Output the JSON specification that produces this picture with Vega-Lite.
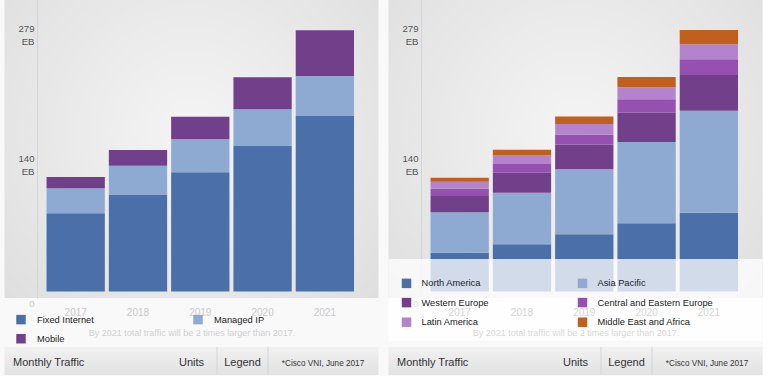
{
  "$schema": "https://vega.github.io/schema/vega-lite/v6.json",
  "background": "#f9f9f9",
  "padding": {"left": 4.5, "top": 0, "right": 0, "bottom": 0},
  "config": {"font": "Liberation Sans", "view": {"stroke": null}},
  "resolve": {"scale": {"color": "independent", "x": "independent", "y": "independent"}, "legend": {"color": "independent"}},
  "datasets": {
    "traffic": [
      {"year": "2017", "type": "Fixed Internet", "value": 83.5},
      {"year": "2017", "type": "Managed IP", "value": 26.7},
      {"year": "2017", "type": "Mobile", "value": 12.0},
      {"year": "2018", "type": "Fixed Internet", "value": 103.0},
      {"year": "2018", "type": "Managed IP", "value": 31.3},
      {"year": "2018", "type": "Mobile", "value": 16.8},
      {"year": "2019", "type": "Fixed Internet", "value": 127.3},
      {"year": "2019", "type": "Managed IP", "value": 35.2},
      {"year": "2019", "type": "Mobile", "value": 24.1},
      {"year": "2020", "type": "Fixed Internet", "value": 155.4},
      {"year": "2020", "type": "Managed IP", "value": 39.1},
      {"year": "2020", "type": "Mobile", "value": 34.2},
      {"year": "2021", "type": "Fixed Internet", "value": 187.4},
      {"year": "2021", "type": "Managed IP", "value": 42.7},
      {"year": "2021", "type": "Mobile", "value": 48.8}
    ],
    "regions": [
      {"year": "2017", "region": "North America", "value": 41.4},
      {"year": "2017", "region": "Asia Pacific", "value": 43.1},
      {"year": "2017", "region": "Western Europe", "value": 17.4},
      {"year": "2017", "region": "Central and Eastern Europe", "value": 7.8},
      {"year": "2017", "region": "Latin America", "value": 7.5},
      {"year": "2017", "region": "Middle East and Africa", "value": 4.3},
      {"year": "2018", "region": "North America", "value": 50.4},
      {"year": "2018", "region": "Asia Pacific", "value": 55.1},
      {"year": "2018", "region": "Western Europe", "value": 21.4},
      {"year": "2018", "region": "Central and Eastern Europe", "value": 9.3},
      {"year": "2018", "region": "Latin America", "value": 8.9},
      {"year": "2018", "region": "Middle East and Africa", "value": 6.1},
      {"year": "2019", "region": "North America", "value": 61.1},
      {"year": "2019", "region": "Asia Pacific", "value": 69.4},
      {"year": "2019", "region": "Western Europe", "value": 26.3},
      {"year": "2019", "region": "Central and Eastern Europe", "value": 10.7},
      {"year": "2019", "region": "Latin America", "value": 11.4},
      {"year": "2019", "region": "Middle East and Africa", "value": 7.8},
      {"year": "2020", "region": "North America", "value": 72.8},
      {"year": "2020", "region": "Asia Pacific", "value": 86.8},
      {"year": "2020", "region": "Western Europe", "value": 31.3},
      {"year": "2020", "region": "Central and Eastern Europe", "value": 14.3},
      {"year": "2020", "region": "Latin America", "value": 12.8},
      {"year": "2020", "region": "Middle East and Africa", "value": 11.0},
      {"year": "2021", "region": "North America", "value": 84.1},
      {"year": "2021", "region": "Asia Pacific", "value": 108.9},
      {"year": "2021", "region": "Western Europe", "value": 38.1},
      {"year": "2021", "region": "Central and Eastern Europe", "value": 16.8},
      {"year": "2021", "region": "Latin America", "value": 16.0},
      {"year": "2021", "region": "Middle East and Africa", "value": 15.3}
    ],
    "footer": [
      {"item": "Monthly Traffic", "kind": "title"},
      {"item": "Units", "kind": "menu"},
      {"item": "Legend", "kind": "menu"},
      {"item": "*Cisco VNI, June 2017", "kind": "source"},
      {"item": "sep1", "kind": "sep"},
      {"item": "sep2", "kind": "sep"}
    ]
  },
  "hconcat": [
    {
      "vconcat": [
        {
          "width": 374,
          "height": 298,
          "data": {"name": "traffic"},
          "transform": [{"calculate": "indexof(['Fixed Internet', 'Managed IP', 'Mobile'], datum.type)", "as": "stackOrder"}],
          "view": {"fill": {"gradient": "radial", "x1": 0.5, "y1": 0.45, "r1": 0, "x2": 0.5, "y2": 0.45, "r2": 0.75, "stops": [{"offset": 0, "color": "#f4f4f4"}, {"offset": 1, "color": "#dcdcdc"}]}, "stroke": null},
          "mark": {"type": "bar"},
          "encoding": {
            "x": {
              "field": "year", "type": "ordinal",
              "scale": {"paddingInner": 0.0642, "paddingOuter": 0.534, "align": 0.632},
              "axis": {"orient": "bottom", "domain": false, "ticks": false, "labelAngle": 0, "labelColor": "#c9c9c9", "labelFontSize": 10, "labelPadding": 9, "title": "By 2021 total traffic will be 2 times larger than 2017.", "titleColor": "#d0d0d0", "titleFontSize": 9, "titleFontWeight": "normal", "titlePadding": 11, "zindex": 1}
            },
            "y": {
              "field": "value", "type": "quantitative", "stack": "zero",
              "scale": {"domain": [-6.94, 311.2], "nice": false, "zero": false},
              "axis": {"values": [0, 140, 279], "offset": -32.5, "domainColor": "#d5d5d5", "ticks": false, "grid": false, "title": null, "labelExpr": "datum.value == 0 ? '0' : [datum.label, 'EB']", "labelColor": {"condition": {"test": "datum.value == 0", "value": "#cccccc"}, "value": "#555555"}, "labelOffset": {"condition": {"test": "datum.value == 0", "value": 15}, "value": 1.5}, "labelFontSize": 9.6, "labelLineHeight": 13, "labelBaseline": "alphabetic", "labelPadding": 3, "labelFlush": false, "labelOverlap": false, "zindex": 1}
            },
            "order": {"field": "stackOrder", "type": "quantitative", "sort": "ascending"},
            "color": {
              "field": "type", "type": "nominal",
              "scale": {"domain": ["Fixed Internet", "Managed IP", "Mobile"], "range": ["#4a6fa9", "#8eaad3", "#723f8a"]},
              "legend": {"orient": "none", "legendX": 0, "legendY": 302.75, "title": null, "columns": 2, "direction": "horizontal", "symbolType": "square", "symbolSize": 90, "symbolStrokeWidth": 0, "labelFontSize": 9.3, "labelColor": "#222222", "labelOffset": 11, "columnPadding": 99, "rowPadding": 8.5, "padding": 11.5, "gridAlign": "all"}
            }
          }
        },
        {
          "width": 374,
          "height": 28,
          "data": {"name": "footer"},
          "view": {"fill": {"gradient": "linear", "x1": 0, "y1": 0, "x2": 0, "y2": 1, "stops": [{"offset": 0, "color": "#f1f1f1"}, {"offset": 1, "color": "#e2e2e2"}]}, "stroke": null},
          "encoding": {
            "x": {"field": "item", "type": "nominal", "scale": {"type": "point", "domain": ["Monthly Traffic", "s1", "s2", "s3", "s4", "s5", "s6", "Units", "sep1", "Legend", "sep2", "s7", "*Cisco VNI, June 2017", "s8"], "padding": 0.833, "align": 0.2}, "axis": null}
          },
          "layer": [
            {"transform": [{"filter": "datum.kind == 'sep'"}], "mark": {"type": "rule", "color": "#d4d4d4"}, "encoding": {}},
            {"transform": [{"filter": "datum.kind == 'title'"}], "mark": {"type": "text", "align": "left", "fontSize": 11, "color": "#333333", "dy": 2}, "encoding": {"text": {"field": "item"}}},
            {"transform": [{"filter": "datum.kind == 'menu'"}], "mark": {"type": "text", "align": "center", "fontSize": 11, "color": "#333333", "dy": 2}, "encoding": {"text": {"field": "item"}}},
            {"transform": [{"filter": "datum.kind == 'source'"}], "mark": {"type": "text", "align": "center", "fontSize": 8.2, "color": "#333333", "dy": 3, "dx": 4}, "encoding": {"text": {"field": "item"}}}
          ]
        }
      ],
      "spacing": 49,
      "bounds": "flush"
    },
    {
      "vconcat": [
        {
          "width": 374,
          "height": 298,
          "data": {"name": "regions"},
          "transform": [{"calculate": "indexof(['North America', 'Asia Pacific', 'Western Europe', 'Central and Eastern Europe', 'Latin America', 'Middle East and Africa'], datum.region)", "as": "stackOrder"}],
          "view": {"fill": {"gradient": "radial", "x1": 0.5, "y1": 0.45, "r1": 0, "x2": 0.5, "y2": 0.45, "r2": 0.75, "stops": [{"offset": 0, "color": "#f4f4f4"}, {"offset": 1, "color": "#dcdcdc"}]}, "stroke": null},
          "mark": {"type": "bar"},
          "encoding": {
            "x": {
              "field": "year", "type": "ordinal",
              "scale": {"paddingInner": 0.0642, "paddingOuter": 0.534, "align": 0.632},
              "axis": {"orient": "bottom", "domain": false, "ticks": false, "labelAngle": 0, "labelColor": "#4f4f4f", "labelFontSize": 10, "labelPadding": 9, "title": "By 2021 total traffic will be 2 times larger than 2017.", "titleColor": "#5c5c5c", "titleFontSize": 9, "titleFontWeight": "normal", "titlePadding": 11, "zindex": 1}
            },
            "y": {
              "field": "value", "type": "quantitative", "stack": "zero",
              "scale": {"domain": [-6.94, 311.2], "nice": false, "zero": false},
              "axis": {"values": [0, 140, 279], "offset": -32.5, "domainColor": "#d5d5d5", "ticks": false, "grid": false, "title": null, "labelExpr": "datum.value == 0 ? '0' : [datum.label, 'EB']", "labelColor": {"condition": {"test": "datum.value == 0", "value": "#777777"}, "value": "#555555"}, "labelOffset": {"condition": {"test": "datum.value == 0", "value": 15}, "value": 1.5}, "labelFontSize": 9.6, "labelLineHeight": 13, "labelBaseline": "alphabetic", "labelPadding": 3, "labelFlush": false, "labelOverlap": false, "zindex": 1}
            },
            "order": {"field": "stackOrder", "type": "quantitative", "sort": "ascending"},
            "color": {
              "field": "region", "type": "nominal",
              "scale": {"domain": ["North America", "Asia Pacific", "Western Europe", "Central and Eastern Europe", "Latin America", "Middle East and Africa"], "range": ["#4a6fa9", "#8eaad3", "#723f8a", "#9451b0", "#b383cc", "#c0601c"]},
              "legend": {"orient": "none", "legendX": 0, "legendY": 259, "title": "\u00a0", "titleFontSize": 6, "titlePadding": 0, "columns": 2, "direction": "horizontal", "symbolType": "square", "symbolSize": 90, "symbolStrokeWidth": 0, "labelFontSize": 9.3, "labelColor": "#222222", "labelOffset": 10, "labelLimit": 400, "labelExpr": "datum.label + '\u00a0\u00a0\u00a0\u00a0\u00a0\u00a0\u00a0\u00a0\u00a0\u00a0\u00a0\u00a0\u00a0\u00a0\u200b'", "columnPadding": 4, "rowPadding": 8.6, "padding": 13, "gridAlign": "all", "fillColor": "rgba(255,255,255,0.75)"}
            }
          }
        },
        {
          "width": 374,
          "height": 28,
          "data": {"name": "footer"},
          "view": {"fill": {"gradient": "linear", "x1": 0, "y1": 0, "x2": 0, "y2": 1, "stops": [{"offset": 0, "color": "#f1f1f1"}, {"offset": 1, "color": "#e2e2e2"}]}, "stroke": null},
          "encoding": {
            "x": {"field": "item", "type": "nominal", "scale": {"type": "point", "domain": ["Monthly Traffic", "s1", "s2", "s3", "s4", "s5", "s6", "Units", "sep1", "Legend", "sep2", "s7", "*Cisco VNI, June 2017", "s8"], "padding": 0.833, "align": 0.2}, "axis": null}
          },
          "layer": [
            {"transform": [{"filter": "datum.kind == 'sep'"}], "mark": {"type": "rule", "color": "#d4d4d4"}, "encoding": {}},
            {"transform": [{"filter": "datum.kind == 'title'"}], "mark": {"type": "text", "align": "left", "fontSize": 11, "color": "#333333", "dy": 2}, "encoding": {"text": {"field": "item"}}},
            {"transform": [{"filter": "datum.kind == 'menu'"}], "mark": {"type": "text", "align": "center", "fontSize": 11, "color": "#333333", "dy": 2}, "encoding": {"text": {"field": "item"}}},
            {"transform": [{"filter": "datum.kind == 'source'"}], "mark": {"type": "text", "align": "center", "fontSize": 8.2, "color": "#333333", "dy": 3, "dx": 4}, "encoding": {"text": {"field": "item"}}}
          ]
        }
      ],
      "spacing": 49,
      "bounds": "flush"
    }
  ],
  "spacing": 10
}
